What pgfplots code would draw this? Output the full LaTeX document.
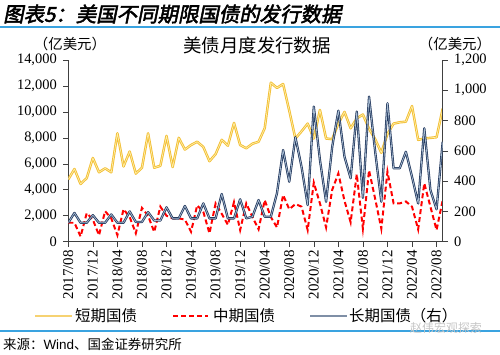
\documentclass[border=0pt]{standalone}
\usepackage{fontspec}
\setmainfont{Liberation Serif}
\newfontfamily\tickfont{Liberation Serif}
\newfontfamily\cjk{Noto Sans CJK SC}
\newfontfamily\cjktitle[FakeSlant=0.2,FakeBold=2.5]{Noto Sans CJK SC}
\usepackage{pgfplots}
\usepackage{pgfplotstable}
\pgfplotsset{compat=1.18}
\definecolor{gold}{HTML}{F2BE35}
\definecolor{goldin}{HTML}{FFEFA8}
\definecolor{navy}{HTML}{24395E}
\definecolor{navyin}{HTML}{A9BED4}
\definecolor{hdrblue}{HTML}{3AA3E0}
\definecolor{legblue}{HTML}{7F8FA6}

\pgfplotstableread{
i short mid long
0 4800 1460 125
1 5600 1460 190
2 4450 400 125
3 4900 2200 125
4 6450 1700 175
5 5350 500 125
6 5650 2350 125
7 5350 1800 180
8 8350 500 125
9 5800 2500 125
10 6950 1900 200
11 5250 650 130
12 5700 2600 130
13 8350 2000 195
14 5700 750 140
15 5850 2700 140
16 8150 2000 227
17 5750 1800 154
18 8000 1800 154
19 7100 1700 236
20 7450 770 154
21 7700 2800 154
22 7300 2300 253
23 6200 650 154
24 6750 2950 154
25 7850 2150 315
26 7400 1300 154
27 9150 3050 154
28 7450 900 280
29 7200 2950 154
30 7550 1900 165
31 7700 950 275
32 8740 3200 165
33 12250 1900 165
34 11850 1100 320
35 12150 3600 605
36 10100 2500 396
37 7950 2900 690
38 8500 2700 495
39 9100 900 242
40 7950 4550 892
41 10150 2950 540
42 7950 1100 264
43 7900 4000 627
44 9100 5260 865
45 10000 3150 561
46 8740 1500 419
47 9500 5200 859
48 9800 1000 290
49 8700 5500 958
50 7900 3300 594
51 6850 1000 264
52 8300 5400 914
53 9100 2950 485
54 9200 2950 485
55 9250 3100 594
56 10450 2700 429
57 7850 950 253
58 7950 4500 749
59 8000 2700 341
60 8050 900 214
61 10250 3200 660
}\datatable

\pgfplotsset{
  common/.style={
    scale only axis, width=374.4bp, height=181.7bp,
    at={(68.3bp,113.3bp)}, anchor=south west,
    xmin=0, xmax=61,
    axis line style={-, draw=black!75, line width=0.7pt},
    tick style={draw=black!75, line width=0.6pt},
    major tick length=5bp, tick align=outside,
    scaled y ticks=false,
    /pgf/number format/assume math mode=true,
    /pgf/number format/1000 sep={,},
    ticklabel style={font=\tickfont\fontsize{14.5}{16}\selectfont},
  }
}

\begin{document}
\begin{tikzpicture}
\useasboundingbox (0,0) rectangle (500bp,355bp);

% header
\node[anchor=west, inner sep=0] at (3bp,341bp) {\cjktitle\fontsize{20.5}{22}\selectfont 图表5：美国不同期限国债的发行数据};
\draw[hdrblue, line width=1.4pt] (0,328bp) -- (500bp,328bp);

% axis units and title
\node[inner sep=0] at (70bp,311bp) {\cjk\fontsize{14.5}{16}\selectfont （亿美元）};
\node[inner sep=0] at (455bp,311bp) {\cjk\fontsize{14.5}{16}\selectfont （亿美元）};
\node[inner sep=0] at (257bp,310bp) {\cjk\fontsize{18.5}{20}\selectfont 美债月度发行数据};

\begin{axis}[common,
  ymin=0, ymax=14000,
  axis x line*=bottom, axis y line*=left,
  xtick={0,4,...,60},
  xticklabels={2017/08,2017/12,2018/04,2018/08,2018/12,2019/04,2019/08,2019/12,2020/04,2020/08,2020/12,2021/04,2021/08,2021/12,2022/04,2022/08},
  xticklabel style={rotate=90, anchor=east, font=\tickfont\fontsize{15}{16}\selectfont},
  ytick={0,2000,...,14000},
  yticklabel style={xshift=-3bp},
]
\addplot[draw=gold, line width=0.9pt, double=goldin, double distance=0.7pt, line join=round] table[x=i, y=short] {\datatable};
\addplot[draw=red, line width=2pt, dash pattern=on 5bp off 3bp] table[x=i, y=mid] {\datatable};
\end{axis}

\begin{axis}[common,
  ymin=0, ymax=1200,
  axis x line=none, axis y line*=right,
  ytick={0,200,...,1200},
  yticklabel style={xshift=3bp},
]
\addplot[draw=navy, line width=0.8pt, double=navyin, double distance=0.7pt, line join=round] table[x=i, y=long] {\datatable};
\end{axis}

% legend
\draw[gold!70, line width=2.2pt] (35bp,39bp) -- (72bp,39bp);
\node[anchor=west, inner sep=0] at (75bp,39bp) {\cjk\fontsize{15.5}{17}\selectfont 短期国债};
\draw[red, line width=2pt, dash pattern=on 5bp off 3bp] (173bp,39bp) -- (208bp,39bp);
\node[anchor=west, inner sep=0] at (213bp,39bp) {\cjk\fontsize{15.5}{17}\selectfont 中期国债};
\draw[legblue, line width=2.2pt] (310bp,39bp) -- (347bp,39bp);
\node[anchor=west, inner sep=0] at (349bp,39bp) {\cjk\fontsize{15.5}{17}\selectfont 长期国债（右）};

% footer
\draw[hdrblue, line width=1.2pt] (0,24bp) -- (500bp,24bp);
\node[anchor=west, inner sep=0, text=gray!45] at (410bp,27bp) {\cjk\fontsize{12}{13}\selectfont 赵伟宏观探索};
\node[anchor=west, inner sep=0] at (3bp,11bp) {\cjk\fontsize{13.5}{15}\selectfont 来源：\fontspec{Liberation Sans}Wind\cjk、国金证券研究所};
\end{tikzpicture}
\end{document}
